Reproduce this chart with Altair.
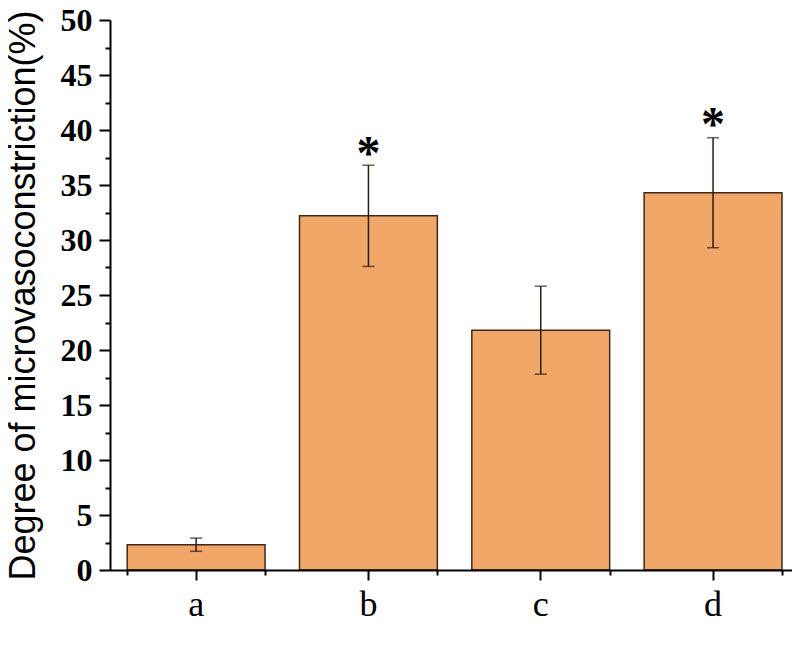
import altair as alt
import pandas as pd

categories = ["a", "b", "c", "d"]
means = [2.3, 32.2, 21.8, 34.3]
errors = [0.6, 4.6, 4.0, 5.0]
star_categories = ["b", "d"]
star_positions = [38.6, 41.3]
y_major = [0, 5, 10, 15, 20, 25, 30, 35, 40, 45, 50]
y_minor = [2.5, 7.5, 12.5, 17.5, 22.5, 27.5, 32.5, 37.5, 42.5, 47.5]

df = pd.DataFrame({"cat": categories, "mean": means, "err": errors})
df["lo"] = df["mean"] - df["err"]
df["hi"] = df["mean"] + df["err"]
stars = pd.DataFrame({"cat": star_categories, "y": star_positions})

W, H = 682, 550
xscale = alt.Scale(domain=categories, paddingInner=0.2, paddingOuter=0.079, align=0.632)
yscale = alt.Scale(domain=[0, 50], nice=False, zero=True)

x_major = alt.Axis(
    title=None, orient="bottom", labelAngle=0, labelFont="Liberation Serif",
    labelFontSize=36, labelColor="black", tickSize=10, tickWidth=2,
    tickColor="black", domainColor="black", domainWidth=2, labelPadding=7,
    grid=False, zindex=1,
)
y_axis = alt.Axis(
    title="Degree of microvasoconstriction(%)", orient="left", values=y_major,
    labelFont="Liberation Serif", labelFontWeight="bold", labelFontSize=32,
    labelColor="black", tickSize=11, tickWidth=2, tickColor="black",
    domainColor="black", domainWidth=2, labelPadding=7, grid=False, zindex=1,
    titleFont="Liberation Sans", titleFontSize=36, titleFontWeight="normal",
    titleColor="black", titleX=-76, titleY=275, titleBaseline="alphabetic",
    titleAngle=-90,
)
x_minor = alt.Axis(
    title=None, orient="bottom", labels=False, domain=False, tickBand="extent",
    tickSize=5, tickWidth=2, tickColor="black", grid=False, zindex=1,
)
y_minor_axis = alt.Axis(
    title=None, orient="left", labels=False, domain=False, values=y_minor,
    tickSize=5, tickWidth=2, tickColor="black", grid=False, zindex=1,
)

base = alt.Chart(df)

bars = base.mark_bar(fill="#F0A767", stroke="#3d2a1c", strokeWidth=1.5).encode(
    x=alt.X("cat:N", scale=xscale, axis=x_major, sort=categories),
    y=alt.Y("mean:Q", scale=yscale, axis=y_axis),
)

minor = base.mark_point(opacity=0).encode(
    x=alt.X("cat:N", scale=xscale, axis=x_minor, sort=categories),
    y=alt.Y("mean:Q", scale=yscale, axis=y_minor_axis),
)

err_rule = base.mark_rule(color="#2a1d14", strokeWidth=1.5).encode(
    x=alt.X("cat:N", scale=xscale, sort=categories, axis=None),
    y=alt.Y("lo:Q", scale=yscale, axis=None),
    y2="hi:Q",
)
cap_lo = base.mark_tick(color="#2a1d14", size=12, thickness=1.5, orient="horizontal").encode(
    x=alt.X("cat:N", scale=xscale, sort=categories, axis=None),
    y=alt.Y("lo:Q", scale=yscale, axis=None),
)
cap_hi = base.mark_tick(color="#2a1d14", size=12, thickness=1.5, orient="horizontal").encode(
    x=alt.X("cat:N", scale=xscale, sort=categories, axis=None),
    y=alt.Y("hi:Q", scale=yscale, axis=None),
)

star_text = alt.Chart(stars).mark_text(
    text="*", font="Liberation Serif", fontWeight="bold", fontSize=48,
    color="black", baseline="middle", dy=10,
).encode(
    x=alt.X("cat:N", scale=xscale, sort=categories, axis=None),
    y=alt.Y("y:Q", scale=yscale, axis=None),
)

chart = (
    alt.layer(bars, minor, err_rule, cap_lo, cap_hi, star_text)
    .resolve_axis(x="independent", y="independent")
    .properties(
        width=W, height=H,
        autosize=alt.AutoSizeParams(type="none"),
        padding={"left": 102, "top": 12, "right": 0, "bottom": 70},
    )
    .configure_view(stroke=None)
)

chart.save("out.html", embed_options={"renderer": "svg", "actions": False})
